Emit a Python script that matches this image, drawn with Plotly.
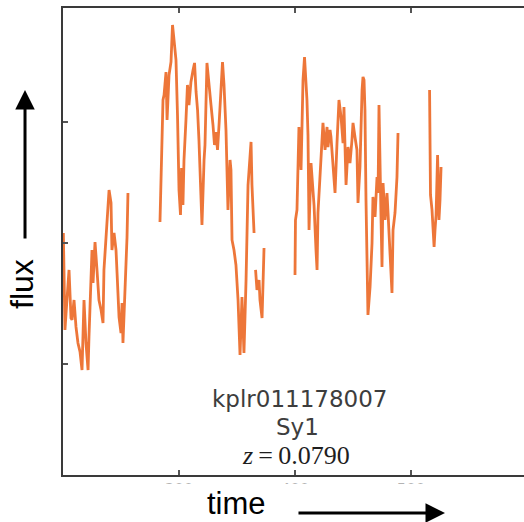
import plotly.graph_objects as go

# ---- data (time in days, flux in arbitrary units) ----
# None marks a gap in the observations
time = [
    # quarter A
    200.3, 201.7, 203.4, 205.2, 206.9, 207.8, 209.5, 211.2, 212.9, 214.7, 216.4, 218.1,
    219.8, 221.6, 222.4, 225.0, 225.9, 227.6, 229.3, 231.0, 232.8, 234.5, 235.3, 237.9,
    239.7, 241.4, 242.2, 244.0, 245.7, 246.6, 248.3, 250.0, 250.9, 251.7, 253.4, 255.2, 256.0,
    None,
    # quarter B
    283.6, 284.9, 286.2, 287.1, 288.8, 289.7, 290.5, 291.4, 293.1, 294.4, 295.7, 297.4,
    298.7, 300.0, 301.3, 302.2, 303.4, 304.3, 306.0, 307.3, 308.6, 310.3, 312.1, 313.4,
    314.7, 316.0, 317.2, 318.5, 319.8, 321.6, 322.4, 324.1, 325.9, 327.6, 329.3, 330.6,
    331.9, 333.2, 334.5, 336.2, 337.5, 338.8, 340.5, 342.2, 344.0, 344.8, 345.7, 347.4,
    349.1, 350.9, 352.6, 354.3, 356.0, 357.8, 359.5, 362.1, 362.9, 364.7,
    None,
    366.0, 367.2, 369.0, 369.8, 371.6, 372.4, 373.3,
    None,
    # quarter C
    400.0, 400.4, 401.7, 403.4, 405.2, 406.9, 408.2, 409.5, 410.3, 411.2, 412.1, 413.8,
    415.5, 416.4, 418.1, 419.0, 419.8, 422.4, 424.1, 425.9, 427.6, 428.4, 430.2, 431.0,
    432.8, 434.5, 436.2, 437.9, 439.7, 441.4, 442.2, 444.0, 445.7, 447.4, 449.1, 450.0,
    451.7, 453.4, 454.3, 456.0, 457.8, 458.6, 459.5, 460.3, 461.2, 462.1, 462.9, 464.7,
    466.4, 467.2, 469.0, 470.7, 471.6, 472.4, 473.3, 474.1, 475.0, 475.9, 477.6, 479.3,
    480.2, 481.9, 483.6, 484.5, 486.2, 487.9, 488.8,
    None,
    # quarter D
    516.0, 516.8, 518.1, 519.9, 520.7, 521.6, 522.9, 524.1, 525.0, 525.9,
]

flux = [
    # quarter A
    2.083, 1.281, 1.529, 1.777, 1.380, 1.364, 1.529, 1.306, 1.174, 1.099, 0.950, 1.529,
    1.174, 0.950, 1.223, 1.942, 1.669, 2.008, 1.777, 1.529, 1.446, 1.339, 1.777, 2.215,
    2.438, 2.331, 1.942, 2.083, 1.942, 1.752, 1.388, 1.256, 1.504, 1.174, 1.554, 2.050, 2.413,
    None,
    # quarter B
    2.174, 2.769, 3.182, 3.223, 3.413, 3.017, 3.264, 3.388, 3.496, 3.802, 3.678, 3.512,
    3.058, 2.438, 2.231, 2.620, 2.314, 2.686, 3.017, 3.306, 3.140, 3.331, 3.430, 3.488,
    3.248, 3.099, 2.851, 2.438, 2.149, 2.686, 2.810, 3.488, 3.331, 3.140, 2.975, 2.810,
    2.917, 2.769, 2.975, 3.223, 3.496, 3.306, 2.934, 2.273, 2.686, 2.603, 2.025, 1.942,
    1.818, 1.529, 1.074, 1.554, 1.091, 1.694, 2.479, 2.835, 2.479, 2.083,
    None,
    1.777, 1.612, 1.694, 1.529, 1.380, 1.777, 1.959,
    None,
    # quarter C
    1.736, 2.190, 2.273, 2.959, 2.603, 3.347, 3.537, 3.306, 3.182, 2.893, 2.107, 2.661,
    2.479, 2.314, 1.942, 1.777, 2.248, 2.744, 2.992, 2.769, 2.959, 2.793, 2.934, 2.876,
    2.628, 2.413, 2.826, 3.182, 3.041, 2.826, 3.124, 2.479, 2.793, 2.661, 2.851, 2.992,
    2.876, 2.769, 2.331, 2.628, 3.264, 3.372, 3.347, 3.099, 2.355, 1.860, 1.405, 1.636,
    2.000, 2.380, 2.215, 2.545, 2.413, 3.140, 2.438, 2.231, 1.802, 2.496, 2.190, 2.413,
    2.248, 1.967, 1.587, 2.107, 2.248, 2.545, 2.909,
    None,
    # quarter D
    3.264, 2.397, 2.273, 1.967, 2.107, 2.231, 2.727, 2.190, 2.355, 2.628,
]

time_ticks = [300, 400, 500]
flux_ticks = [1, 2, 3]
object_id = "kplr011178007"
object_class = "Sy1"
redshift = "0.0790"

fig = go.Figure()
fig.add_trace(go.Scatter(
    x=time, y=flux, mode="lines",
    line=dict(color="rgba(236,106,40,0.92)", width=2.8),
    connectgaps=False, hoverinfo="skip", showlegend=False,
))

fig.update_layout(
    width=524, height=522,
    margin=dict(l=63, r=0, t=8, b=47),
    paper_bgcolor="white", plot_bgcolor="white",
    showlegend=False,
    xaxis=dict(
        range=[200, 597.4], tickvals=time_ticks, ticktext=[str(v) for v in time_ticks],
        showgrid=False, zeroline=False,
        showline=True, linecolor="#3a3a3a", linewidth=2, mirror="ticks",
        ticks="inside", ticklen=5, tickwidth=1.5, tickcolor="#555555",
        tickfont=dict(family="DejaVu Sans", size=15, color="#666666"),
    ),
    yaxis=dict(
        range=[0.0826, 3.942], tickvals=flux_ticks, showticklabels=False,
        showgrid=False, zeroline=False,
        showline=True, linecolor="#3a3a3a", linewidth=2, mirror=False,
        ticks="inside", ticklen=5, tickwidth=1.5, tickcolor="#555555",
    ),
)

# white band hiding the lower part of the tick labels (they are cut in the reference)
fig.add_shape(type="rect", xref="paper", yref="paper", x0=-0.2, x1=1.1, y0=-0.018, y1=-0.2,
              fillcolor="white", line=dict(width=0), layer="above")

txt_color = "#3d3d3d"
fig.add_annotation(x=0.514, y=0.1627, xref="paper", yref="paper", text=object_id,
                   xanchor="center", yanchor="middle",
                   showarrow=False, font=dict(family="DejaVu Sans", size=23, color=txt_color))
fig.add_annotation(x=0.508, y=0.1028, xref="paper", yref="paper", text=object_class,
                   xanchor="center", yanchor="middle",
                   showarrow=False, font=dict(family="DejaVu Sans", size=23, color=txt_color))
fig.add_annotation(x=0.505, y=0.0428, xref="paper", yref="paper",
                   text="<i>z</i>\u2009=\u2009" + redshift,
                   xanchor="center", yanchor="middle",
                   showarrow=False, font=dict(family="Liberation Serif", size=26, color="#1e1e1e"))

# axis captions with arrows
fig.add_annotation(x=-0.0889, y=0.409, xref="paper", yref="paper", text="flux", textangle=-90,
                   xanchor="center", yanchor="middle",
                   showarrow=False, font=dict(family="Liberation Sans", size=32, color="black"))
fig.add_annotation(x=0.3753, y=-0.062, xref="paper", yref="paper", text="time",
                   xanchor="center", yanchor="middle",
                   showarrow=False, font=dict(family="Liberation Sans", size=31, color="black"))
fig.add_annotation(x=-0.0824, y=0.8244, xref="paper", yref="paper", text="",
                   showarrow=True, ax=0, ay=150, arrowhead=2, arrowsize=1.3, arrowwidth=3,
                   arrowcolor="black", standoff=0, startstandoff=0)
fig.add_annotation(x=0.8286, y=-0.0814, xref="paper", yref="paper", text="",
                   showarrow=True, ax=-148, ay=0, arrowhead=2, arrowsize=1.3, arrowwidth=3,
                   arrowcolor="black", standoff=0, startstandoff=0)

fig.write_html("out.html")
